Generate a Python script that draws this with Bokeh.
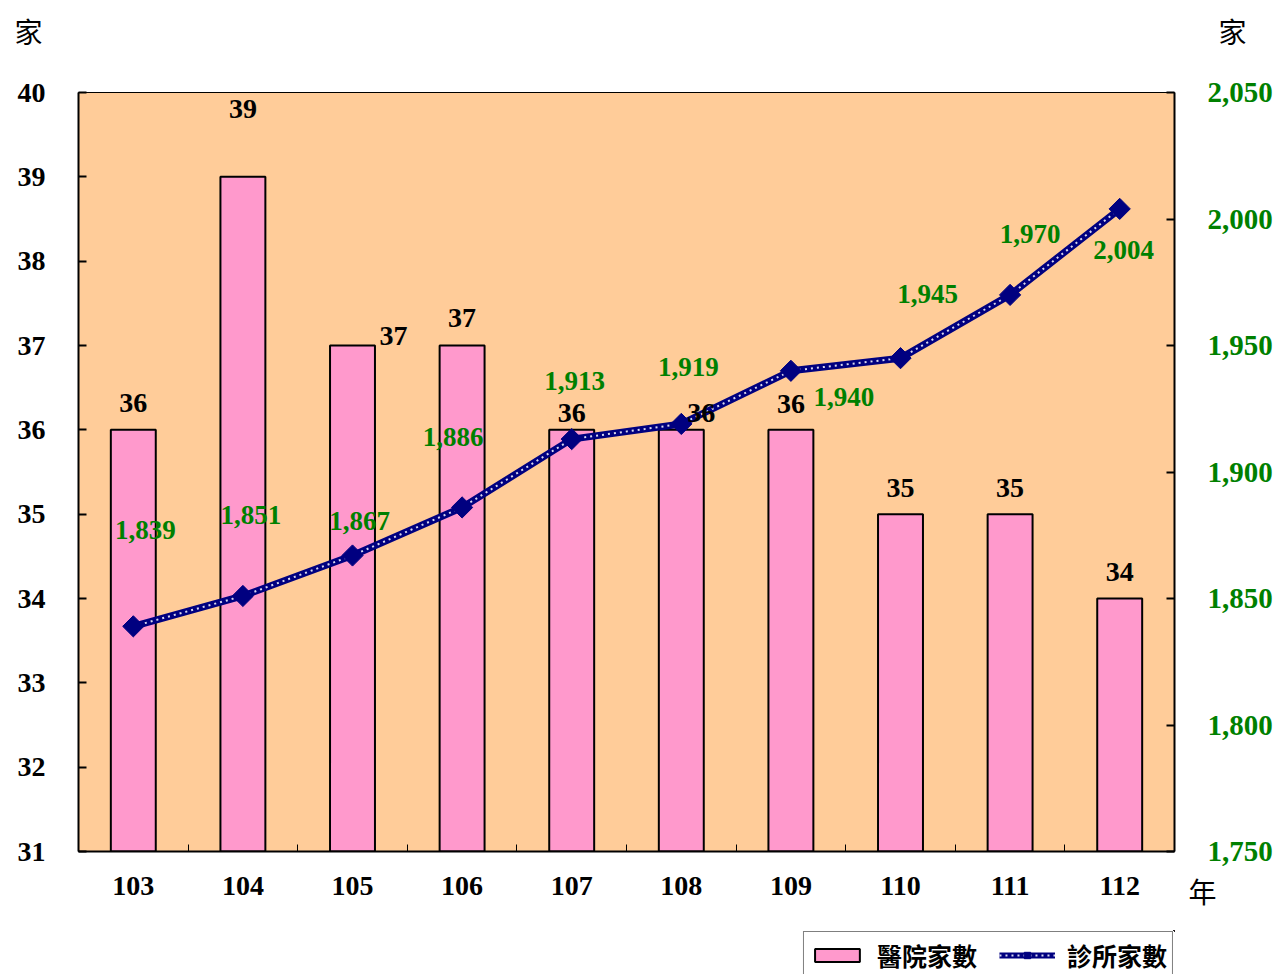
from bokeh.plotting import figure
from bokeh.layouts import column
from bokeh.models import (Range1d, LinearAxis, FixedTicker, NumeralTickFormatter,
                          Legend, LegendItem, ColumnDataSource, Title)
from bokeh.core.properties import value
from bokeh.embed import file_html
from bokeh.resources import INLINE

# ---------------- data ----------------
years = [103, 104, 105, 106, 107, 108, 109, 110, 111, 112]
year_labels = ["103", "104", "105", "106", "107", "108", "109", "110", "111", "112"]
hospitals = [36, 39, 37, 37, 36, 36, 36, 35, 35, 34]
clinics = [1839, 1851, 1867, 1886, 1913, 1919, 1940, 1945, 1970, 2004]
left_ticks = [31, 32, 33, 34, 35, 36, 37, 38, 39, 40]
right_ticks = [1750, 1800, 1850, 1900, 1950, 2000, 2050]
series_names = ["醫院家數", "診所家數"]
unit_label = "家"
year_unit = "年"

# ---------------- label offsets (pixels, styling) ----------------
bar_dx = [0, 0, 41, 0, 0, 20, 0, 0, 0, 0]
bar_dy = [-27, -68, -10, -28, -17, -17, -26, -26, -26, -27]
line_dx = [12, 8, 7, -9, 3, 7, 53, 27, 20, 4]
line_dy = [-96, -81, -34, -70, -58, -57, 26, -64, -61, 41]

SERIF = "Liberation Serif"
CJK = "Noto Sans CJK TC"
BG = "#FFCC99"
PINK = "#FF99CC"
NAVY = "#000080"
GREEN = "#008000"
DOT = "#D8D8F0"

src = ColumnDataSource(dict(
    x=years,
    h=hospitals,
    c=clinics,
    h_txt=[str(v) for v in hospitals],
    c_txt=[f"{v:,}" for v in clinics],
    bdx=bar_dx, bdy=bar_dy, ldx=line_dx, ldy=line_dy,
))

p = figure(frame_width=1096, frame_height=759,
           min_border_left=78, min_border_right=97,
           min_border_top=92, min_border_bottom=79,
           x_range=Range1d(102.5, 112.5), y_range=Range1d(31, 40),
           output_backend="svg", toolbar_location=None,
           border_fill_color="white")
p.background_fill_color = BG
p.outline_line_color = "black"
p.outline_line_width = 1
p.xgrid.visible = False
p.ygrid.visible = False

p.extra_y_ranges = {"right": Range1d(1750, 2050)}

# left axis
ya = p.yaxis[0]
ya.ticker = FixedTicker(ticks=left_ticks, minor_ticks=[])
ya.axis_line_width = 2
ya.axis_line_color = "black"
ya.major_tick_in = 8
ya.major_tick_out = 0
ya.major_tick_line_width = 2
ya.minor_tick_line_color = None
ya.major_label_standoff = 33
ya.major_label_text_font = SERIF
ya.major_label_text_font_style = "bold"
ya.major_label_text_font_size = "28px"
ya.major_label_text_color = "black"

# right axis
ra = LinearAxis(y_range_name="right")
ra.ticker = FixedTicker(ticks=right_ticks, minor_ticks=[])
ra.formatter = NumeralTickFormatter(format="0,0")
ra.axis_line_width = 2
ra.axis_line_color = "black"
ra.major_tick_in = 8
ra.major_tick_out = 0
ra.major_tick_line_width = 2
ra.minor_tick_line_color = None
ra.major_label_standoff = 33
ra.major_label_text_font = SERIF
ra.major_label_text_font_style = "bold"
ra.major_label_text_font_size = "29px"
ra.major_label_text_color = GREEN
p.add_layout(ra, "right")

# x axis
xa = p.xaxis[0]
xa.ticker = FixedTicker(ticks=years, minor_ticks=[y + 0.5 for y in years[:-1]])
xa.major_label_overrides = {y: l for y, l in zip(years, year_labels)}
xa.axis_line_width = 2
xa.axis_line_color = "black"
xa.major_tick_line_color = None
xa.minor_tick_in = 7
xa.minor_tick_out = 0
xa.minor_tick_line_color = "black"
xa.minor_tick_line_width = 1
xa.major_label_standoff = 19
xa.major_label_text_font = SERIF
xa.major_label_text_font_style = "bold"
xa.major_label_text_font_size = "28px"
xa.major_label_text_color = "black"

# bars
p.vbar(x="x", top="h", bottom=31, width=0.41, source=src,
       fill_color=PINK, line_color="black", line_width=2)

# line
p.line(x="x", y="c", source=src, y_range_name="right",
       line_color=NAVY, line_width=7)
p.line(x="x", y="c", source=src, y_range_name="right",
       line_color=DOT, line_width=2, line_dash="2 4")
p.scatter(x="x", y="c", source=src, y_range_name="right",
          marker="square", size=15, angle=0.785398,
          fill_color=NAVY, line_color=NAVY)

# value labels
p.text(x="x", y="h", text="h_txt", source=src, x_offset="bdx", y_offset="bdy",
       text_align="center", text_baseline="middle",
       text_font=value(SERIF), text_font_style="bold", text_font_size="28px",
       text_color="black")
p.text(x="x", y="c", text="c_txt", source=src, y_range_name="right",
       x_offset="ldx", y_offset="ldy",
       text_align="center", text_baseline="middle",
       text_font=value(SERIF), text_font_style="bold", text_font_size="27px",
       text_color=GREEN)

# unit texts 家 (over the left axis and over the right axis) in the top panel
units_text = unit_label + "\u3000" * 42 + unit_label + "\n\u3000"
p.add_layout(Title(text=units_text, align="left", offset=-64,
                   vertical_align="bottom", standoff=4,
                   text_font=CJK, text_font_size="28px",
                   text_font_style="normal", text_color="black"), "above")

# 年 at the right end of the x axis
p.add_layout(Title(text=year_unit, align="right", offset=-42,
                   vertical_align="top", standoff=-54,
                   text_font=CJK, text_font_size="28px",
                   text_font_style="normal", text_color="black"), "below")

# ---------------- legend strip under the chart ----------------
pl = figure(width=1275, height=44, min_border=0,
            x_axis_type=None, y_axis_type=None,
            x_range=Range1d(0, 1), y_range=Range1d(0, 1),
            output_backend="svg", toolbar_location=None,
            background_fill_color="white", border_fill_color="white")
pl.outline_line_color = None
# same series drawn out of this strip's view, only so the legend shows their glyphs
lg_bar = pl.vbar(x="x", top="h", bottom=31, width=0.41, source=src,
                 fill_color=PINK, line_color="black", line_width=2)
lg_ln = pl.line(x="x", y="c", source=src, line_color=NAVY, line_width=6)
lg_dot = pl.line(x="x", y="c", source=src, line_color=DOT, line_width=2,
                 line_dash="2 4")
lg_mk = pl.scatter(x="x", y="c", source=src, marker="square", size=14,
                   angle=0.785398, fill_color=NAVY, line_color=NAVY)

legend = Legend(items=[
    LegendItem(label=series_names[0], renderers=[lg_bar]),
    LegendItem(label=series_names[1], renderers=[lg_ln, lg_dot, lg_mk]),
], location="top_right", orientation="horizontal",
    glyph_width=56, glyph_height=16, label_standoff=12, spacing=22,
    padding=5, margin=1,
    border_line_color="black", border_line_width=1,
    background_fill_color="white", background_fill_alpha=1,
    label_text_font=CJK, label_text_font_style="bold",
    label_text_font_size="25px", label_text_color="black")
pl.add_layout(legend, "center")

page = column(p, pl, spacing=0)
open("out.html", "w").write(file_html(page, INLINE))
